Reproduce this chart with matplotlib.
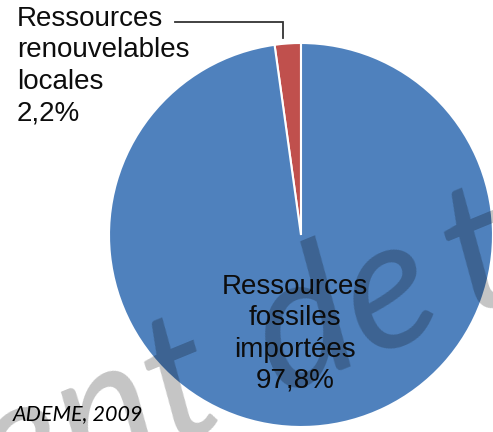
import numpy as np
import matplotlib
matplotlib.use("Agg")
import matplotlib.pyplot as plt

labels = ["Ressources\nrenouvelables\nlocales", "Ressources\nfossiles\nimportées"]
values = [2.2, 97.8]
value_labels = ["2,2%", "97,8%"]
colors = ["#C0504D", "#4F81BD"]
source = "ADEME, 2009"
watermark_parts = ["ent", "de", "t"]

W, H = 493, 432
fig = plt.figure(figsize=(W / 100, H / 100), dpi=100)
cx, cy, R = 301, 235, 192
ax = fig.add_axes([(cx - R) / W, (H - cy - R) / H, 2 * R / W, 2 * R / H])
wedges, _ = ax.pie(values, colors=colors, startangle=90, counterclock=True,
                   radius=1.0, wedgeprops=dict(edgecolor="white", linewidth=1.5))
ax.set_xlim(-1, 1)
ax.set_ylim(-1, 1)
ax.set_aspect("equal")
ax.axis("off")

# leader line for the small slice
w = wedges[0]
ang = np.deg2rad(w.theta1 + 0.65 * (w.theta2 - w.theta1))
ex, ey = 1.03 * np.cos(ang), 1.03 * np.sin(ang)
ax.plot([-0.656, ex, ex], [1.11, 1.11, ey], color="#333333", lw=1.3,
        clip_on=False, solid_joinstyle="miter")

fam = ["Liberation Sans", "DejaVu Sans"]
fig.text(17 / W, 1 - 6 / H, labels[0] + "\n" + value_labels[0], ha="left", va="top",
         fontsize=20, family=fam, linespacing=1.27, color="#0d0d0d")
fig.text(295 / W, (H - 334) / H, labels[1] + "\n" + value_labels[1], ha="center",
         va="center", multialignment="center", fontsize=20, family=fam,
         linespacing=1.26, color="#0d0d0d")
fig.text(13 / W, (H - 414) / H, source, ha="left", va="center", fontsize=15.5,
         family=["Lato", "DejaVu Sans"], style="italic", color="black")

# faint watermark across the picture
wm_anchor = [(116, 468), (364, 359), (500, 303)]
for part, (px, py) in zip(watermark_parts, wm_anchor):
    fig.text(px / W, (H - py) / H, part, ha="center", va="baseline", rotation=22.3,
             rotation_mode="anchor", fontsize=132, family=["Lato", "DejaVu Sans"],
             style="italic", color="black", alpha=0.23, zorder=10)

fig.savefig("out.png", dpi=100)
